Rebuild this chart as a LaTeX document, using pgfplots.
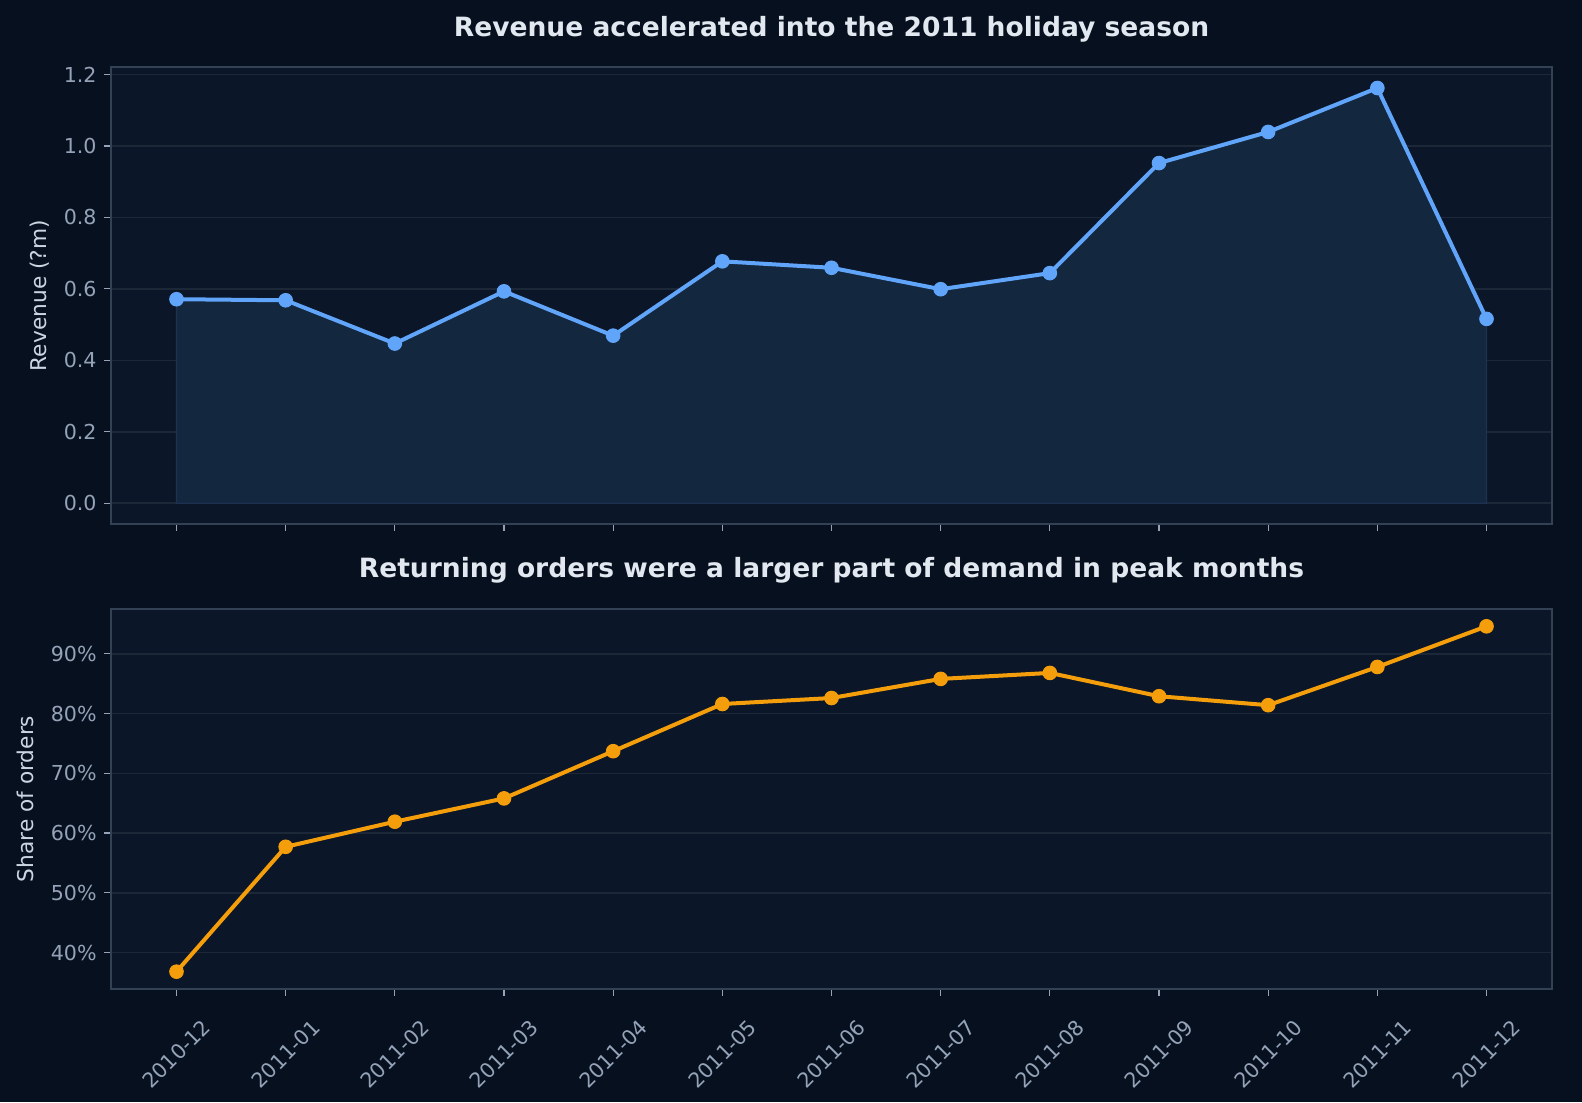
\documentclass[border=0pt]{standalone}
\usepackage{pgfplots}
\pgfplotsset{compat=1.18}
\usepackage{fontspec}
\setmainfont{DejaVu Sans}
\definecolor{figbg}{HTML}{07101E}
\definecolor{axbg}{HTML}{0B1628}
\definecolor{gridc}{HTML}{1C2738}
\definecolor{spinec}{HTML}{334155}
\definecolor{tickc}{HTML}{94A3B8}
\definecolor{titlec}{HTML}{E2E8F0}
\definecolor{labelc}{HTML}{CBD5E1}
\definecolor{bluec}{HTML}{60A5FA}
\definecolor{fillc}{HTML}{13273F}
\definecolor{filledge}{HTML}{1C3250}
\definecolor{orangec}{HTML}{F59E0B}

\pgfplotstableread{
x rev share
0 0.571 36.8
1 0.568 57.7
2 0.447 61.9
3 0.593 65.8
4 0.469 73.7
5 0.677 81.6
6 0.659 82.6
7 0.599 85.8
8 0.644 86.8
9 0.952 82.9
10 1.039 81.4
11 1.162 87.8
12 0.516 94.6
}\datatab

\pgfplotsset{
  common/.style={
    anchor=south west,
    scale only axis,
    width=720.5pt,
    xmin=-0.6, xmax=12.6,
    xtick={0,1,2,3,4,5,6,7,8,9,10,11,12},
    axis background/.style={fill=axbg},
    axis line style={color=spinec, line width=1pt},
    tick align=outside,
    xtick pos=bottom, ytick pos=left,
    major tick length=3.5pt,
    tick style={color=tickc, line width=0.6pt},
    ymajorgrids,
    major grid style={color=gridc, line width=0.8pt},
    yticklabel style={font=\fontsize{10.3}{12}\selectfont, color=tickc, anchor=east, inner sep=0pt, xshift=-3.5pt},
    every axis title/.style={at={(0.5,1)}, anchor=base, yshift=15.6pt, font=\bfseries\fontsize{13.26}{15}\selectfont, color=titlec},
    label style={font=\fontsize{10.85}{13}\selectfont, color=labelc},
  }
}

\begin{document}
\begin{tikzpicture}
\fill[figbg] (0,0) rectangle (791pt,551pt);
\path[use as bounding box] (0,0) rectangle (791pt,551pt);

\begin{axis}[common,
  at={(55.5pt,289pt)},
  height=228.35pt,
  ymin=-0.058, ymax=1.220,
  ytick={0,0.2,0.4,0.6,0.8,1.0,1.2},
  yticklabels={0.0,0.2,0.4,0.6,0.8,1.0,1.2},
  xticklabels={},
  title={Revenue accelerated into the 2011 holiday season},
  ylabel={Revenue (?m)},
  ylabel style={at={(axis description cs:-0.0493,0.5)}, anchor=center},
]
\addplot[fill=fillc, draw=filledge, line width=0.6pt] table[x=x, y=rev] {\datatab} \closedcycle;
\addplot[color=bluec, line width=2pt, mark=*, mark size=3.4pt, mark options={line width=0.5pt, draw=bluec, fill=bluec}] table[x=x, y=rev] {\datatab};
\end{axis}

\begin{axis}[common,
  at={(55.5pt,56.5pt)},
  height=190pt,
  ymin=33.9, ymax=97.5,
  ytick={40,50,60,70,80,90},
  yticklabels={40\%,50\%,60\%,70\%,80\%,90\%},
  xticklabels={2010-12,2011-01,2011-02,2011-03,2011-04,2011-05,2011-06,2011-07,2011-08,2011-09,2011-10,2011-11,2011-12},
  xticklabel style={font=\fontsize{10.3}{12}\selectfont, color=tickc, yshift=-29pt, rotate=45, anchor=center},
  title={Returning orders were a larger part of demand in peak months},
  ylabel={Share of orders},
  ylabel style={at={(axis description cs:-0.0597,0.5)}, anchor=center},
]
\addplot[color=orangec, line width=2pt, mark=*, mark size=3.4pt, mark options={line width=0.5pt, draw=orangec, fill=orangec}] table[x=x, y=share] {\datatab};
\end{axis}
\end{tikzpicture}
\end{document}
